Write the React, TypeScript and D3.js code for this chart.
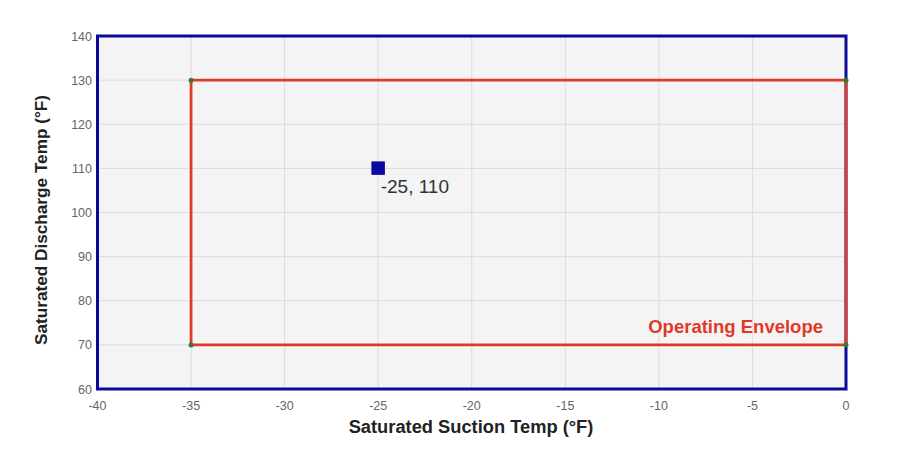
import React from "react";
import * as d3 from "d3";

const xTicks = [-40, -35, -30, -25, -20, -15, -10, -5, 0];
const yTicks = [60, 70, 80, 90, 100, 110, 120, 130, 140];
const envelopeX = [-35, 0, 0, -35, -35];
const envelopeY = [130, 130, 70, 70, 130];
const cornerX = [-35, 0, 0, -35];
const cornerY = [130, 130, 70, 70];
const pointX = [-25];
const pointY = [110];
const pointLabels = ["-25, 110"];
const envelopeLabel = "Operating Envelope";
const xTitle = "Saturated Suction Temp (°F)";
const yTitle = "Saturated Discharge Temp (°F)";

export default function App() {
  const W = 905, H = 469;
  const left = 97.5, right = 846, top = 36, bottom = 389;
  const x = d3.scaleLinear().domain([-40, 0]).range([left, right]);
  const y = d3.scaleLinear().domain([60, 140]).range([bottom, top]);
  const line = d3.line<number>().x((_, i) => x(envelopeX[i])).y((_, i) => y(envelopeY[i]));
  const font = "Arial, 'Liberation Sans', Helvetica, sans-serif";
  return (
    <svg width={W} height={H} style={{ position: "absolute", left: 0, top: 0, background: "#fff" }} fontFamily={font}>
      <rect x={left} y={top} width={right - left} height={bottom - top} fill="#f4f4f4" />
      {xTicks.map((t) => (
        <line key={"gx" + t} x1={x(t)} x2={x(t)} y1={top} y2={bottom} stroke="#dcdcdc" strokeWidth={1} />
      ))}
      {yTicks.map((t) => (
        <line key={"gy" + t} x1={left} x2={right} y1={y(t)} y2={y(t)} stroke="#dcdcdc" strokeWidth={1} />
      ))}
      <rect x={left} y={top} width={right - left} height={bottom - top} fill="none" stroke="#0a0a96" strokeWidth={3} />
      <path d={line(envelopeX) || ""} fill="none" stroke="#e0392b" strokeWidth={2.8} />
      {cornerX.map((cx, i) => (
        <circle key={"c" + i} cx={x(cx)} cy={y(cornerY[i])} r={2.5} fill="#2e7d32" />
      ))}
      {pointX.map((px, i) => (
        <g key={"p" + i}>
          <rect x={x(px) - 6.8} y={y(pointY[i]) - 7} width={13.5} height={13.5} fill="#0a0a9e" />
          <text x={x(px) + 2.5} y={y(pointY[i]) + 25} fontSize={19} fill="#333">{pointLabels[i]}</text>
        </g>
      ))}
      <text x={823} y={333} textAnchor="end" fontSize={18.5} fontWeight="bold" fill="#e0392b">{envelopeLabel}</text>
      {xTicks.map((t) => (
        <text key={"tx" + t} x={x(t)} y={bottom + 21} textAnchor="middle" fontSize={12.5} fill="#666">{t}</text>
      ))}
      {yTicks.map((t) => (
        <text key={"ty" + t} x={left - 5.5} y={y(t) + 4.5} textAnchor="end" fontSize={12.5} fill="#666">{t}</text>
      ))}
      <text x={471} y={433} textAnchor="middle" fontSize={18.3} fontWeight="bold" fill="#222">{xTitle}</text>
      <text transform={`translate(47,220) rotate(-90)`} textAnchor="middle" fontSize={17.2} fontWeight="bold" fill="#222">{yTitle}</text>
    </svg>
  );
}
